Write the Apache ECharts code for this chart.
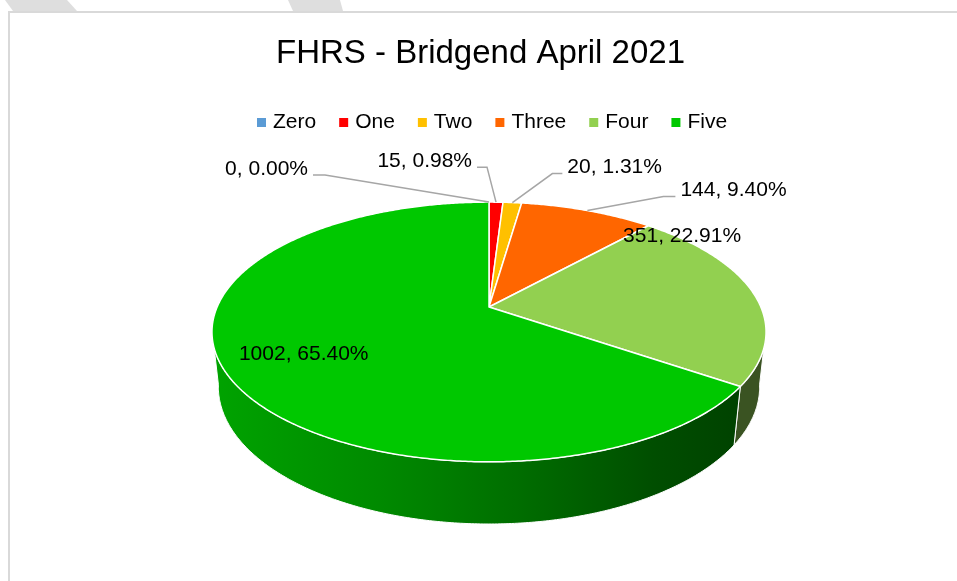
<!DOCTYPE html>
<html><head><meta charset="utf-8">
<script src="https://cdn.jsdelivr.net/npm/echarts@6/dist/echarts.min.js"></script>
<style>html,body{margin:0;padding:0;background:#fff}#c{width:957px;height:581px}</style>
</head><body><div id="c"></div>
<script>
// ---- data ----
const titleText = 'FHRS - Bridgend April 2021';
const categories = ['Zero', 'One', 'Two', 'Three', 'Four', 'Five'];
const values = [0, 15, 20, 144, 351, 1002];

// ---- styles / layout ----
const topColors = ['#5b9bd5', '#ff0000', '#ffc000', '#ff6600', '#92d050', '#00c800'];
const wallColors = ['#2f5f8a', '#8a0000', '#8a6800', '#8a3600', '#3a5322', null];
const FONT = '"Liberation Sans", Arial, sans-serif';
// label layout: offsets from the rim point at slice mid-angle
const labelLayout = [
  { elbow: [-164, -27], len: -12, dy: -6 },
  { elbow: [-9, -35], len: -10, dy: -6 },
  { elbow: [40, -29], len: 10, dy: -6 },
  { elbow: [76, -14], len: 12, dy: -6 },
  { inside: [-71, -57] },
  { inside: [79, -17] }
];
// 3D projection parameters (perspective pie)
const P = { cx: 489, cy: 307, F: 1256, D: 4.62, s: 0.46, c: 0.888, H: 0.2285 };

const total = values.reduce((a, b) => a + b, 0);
const starts = [];
{ let acc = 0; values.forEach(v => { starts.push(acc); acc += v; }); }

function proj(theta, r, h) {
  const u = r * Math.sin(theta), v = r * Math.cos(theta);
  const yc = v * P.s + h * P.c;
  const zc = P.D + v * P.c - h * P.s;
  return [P.cx + P.F * u / zc, P.cy - P.F * yc / zc];
}
function arc(a0, a1, h) {
  const pts = [];
  const n = Math.max(2, Math.ceil(Math.abs(a1 - a0) / (Math.PI / 360)));
  for (let i = 0; i <= n; i++) pts.push(proj(a0 + (a1 - a0) * i / n, 1, h));
  return pts;
}

const wallGradient = {
  type: 'linear', x: 214, y: 0, x2: 764, y2: 0, global: true,
  colorStops: [
    { offset: 0, color: '#00a300' },
    { offset: 0.3, color: '#008a00' },
    { offset: 0.55, color: '#006e00' },
    { offset: 0.8, color: '#004e00' },
    { offset: 1, color: '#003f00' }
  ]
};

function renderItem(params, api) {
  const i = params.dataIndex;
  const val = api.value(0);
  const a0 = starts[i] / total * Math.PI * 2;
  const a1 = (starts[i] + val) / total * Math.PI * 2;
  const children = [];
  if (val > 0) {
    // outer wall, front-facing part only
    const fLo = 100 / 180 * Math.PI, fHi = 260 / 180 * Math.PI;
    const w0 = Math.max(a0, fLo), w1 = Math.min(a1, fHi);
    if (w1 > w0) {
      const topArc = arc(w0, w1, 0);
      const botArc = arc(w1, w0, -P.H);
      children.push({
        type: 'polygon', z2: 1,
        shape: { points: topArc.concat(botArc) },
        style: { fill: wallColors[i] || wallGradient, stroke: '#ffffff', lineWidth: 1 }
      });
    }
    const pts = [[P.cx, P.cy]].concat(arc(a0, a1, 0));
    children.push({
      type: 'polygon', z2: 5,
      shape: { points: pts },
      style: { fill: topColors[i], stroke: '#ffffff', lineWidth: 1.5, lineJoin: 'round' }
    });
  }
  // label
  const mid = (a0 + a1) / 2;
  const rim = proj(mid, 1, 0);
  const pct = (val / total * 100).toFixed(2) + '%';
  const text = categories.length ? (val + ', ' + pct) : '';
  const L = labelLayout[i];
  if (L.inside) {
    children.push({
      type: 'text', z2: 20,
      style: { x: rim[0] + L.inside[0], y: rim[1] + L.inside[1], text: text, fill: '#000',
        font: '21px ' + FONT, align: 'center', verticalAlign: 'middle' }
    });
  } else {
    const elbow = [rim[0] + L.elbow[0], rim[1] + L.elbow[1]];
    const end = [elbow[0] + L.len, elbow[1]];
    children.push({
      type: 'polyline', z2: 15,
      shape: { points: [rim, elbow, end] },
      style: { stroke: '#a6a6a6', lineWidth: 1.5, fill: null }
    });
    const dir = L.len < 0 ? -1 : 1;
    children.push({
      type: 'text', z2: 20,
      style: { x: end[0] + dir * 5, y: end[1] + L.dy, text: text, fill: '#000',
        font: '21px ' + FONT, align: dir < 0 ? 'right' : 'left', verticalAlign: 'middle' }
    });
  }
  return { type: 'group', children: children };
}

const chart = echarts.init(document.getElementById('c'), null, { renderer: 'canvas' });
chart.setOption({
  animation: false,
  backgroundColor: '#ffffff',
  color: topColors,
  title: {
    text: titleText, left: 271, top: 32, padding: 5,
    textStyle: { fontFamily: FONT, fontSize: 33, fontWeight: 'normal', color: '#000' }
  },
  legend: {
    left: 252, top: 107, itemWidth: 9, itemHeight: 9, itemGap: 23, icon: 'rect',
    selectedMode: false, padding: 5,
    textStyle: { fontFamily: FONT, fontSize: 21, color: '#000', padding: [0, 0, 0, 2] },
    data: categories
  },
  graphic: [
    { type: 'polygon', shape: { points: [[5, 0], [67, 0], [77, 11], [13, 11]] }, style: { fill: '#dedede' }, silent: true },
    { type: 'polygon', shape: { points: [[288, 0], [340, 0], [343, 11], [293, 11]] }, style: { fill: '#dedede' }, silent: true },
    { type: 'line', shape: { x1: 8, y1: 12, x2: 957, y2: 12 }, style: { stroke: '#d9d9d9', lineWidth: 2 }, silent: true },
    { type: 'line', shape: { x1: 9, y1: 12, x2: 9, y2: 581 }, style: { stroke: '#d9d9d9', lineWidth: 2 }, silent: true }
  ],
  series: [
    {
      type: 'pie', z: 1, silent: true, center: [P.cx, P.cy], radius: [0, 1],
      label: { show: false }, labelLine: { show: false },
      data: categories.map((n, i) => ({ name: n, value: values[i], itemStyle: { color: topColors[i] } }))
    },
    {
      type: 'custom', z: 3, coordinateSystem: 'none', silent: true,
      renderItem: renderItem,
      data: categories.map((n, i) => ({ name: n, value: [values[i]] }))
    }
  ]
});
</script>
</body></html>
